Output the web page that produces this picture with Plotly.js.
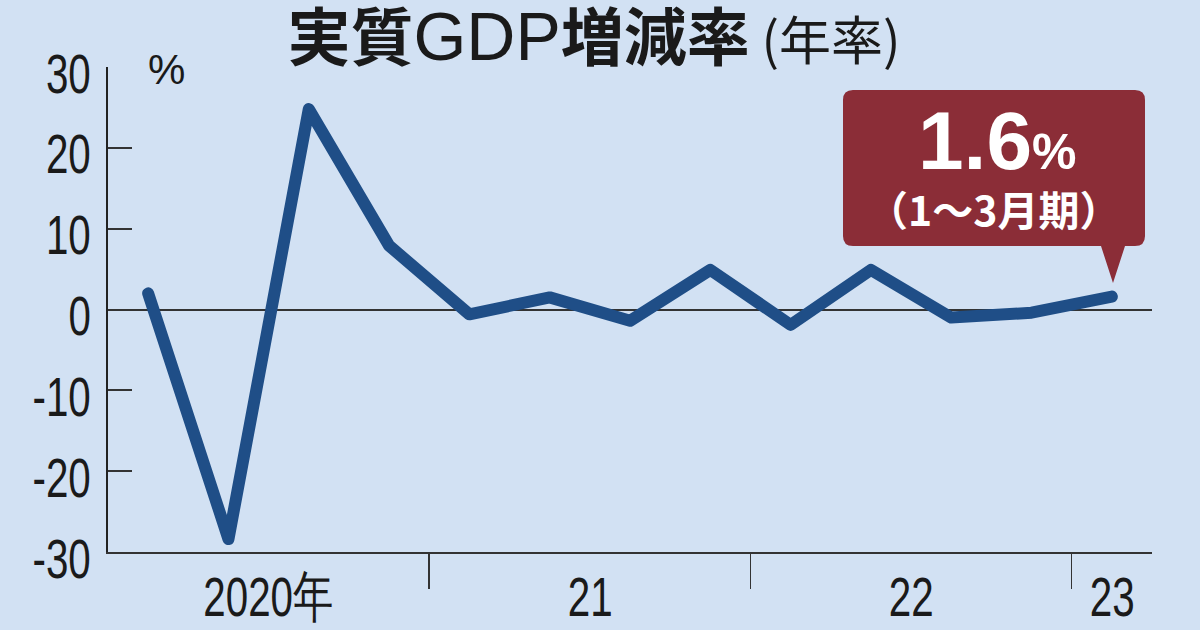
<!DOCTYPE html>
<html>
<head>
<meta charset="utf-8">
<script src="https://cdn.plot.ly/plotly-3.0.1.min.js"></script>
<style>
html,body{margin:0;padding:0;background:#D2E1F3;}
#chart{width:1200px;height:630px;}
.js-line{stroke-linecap:round !important;stroke-linejoin:round !important;}
</style>
</head>
<body>
<div id="chart"></div>
<script>
// Quarters: 2020 Q1 .. 2023 Q1
const quarters = ["2020Q1","2020Q2","2020Q3","2020Q4","2021Q1","2021Q2","2021Q3","2021Q4","2022Q1","2022Q2","2022Q3","2022Q4","2023Q1"];
const growthRate = [2.0, -28.4, 24.8, 7.9, -0.6, 1.5, -1.4, 4.9, -1.9, 4.9, -1.0, -0.4, 1.6];
const yearLabels = ["2020年", "21", "22", "23"];
const yearLabelPos = [1.5, 5.5, 9.5, 12];
const yearBoundaries = [3.5, 7.5, 11.5];
const yTicks = [-30, -20, -10, 0, 10, 20, 30];
const yTickText = ["-30", "-20", "-10", "0", "10", "20", "30"];
const titleParts = ["実質", "GDP", "増減率", "(年率)"];
const calloutValue = "1.6";
const calloutPeriod = "（1〜3月期）";

const xIdx = quarters.map((q, i) => i);

// plot area in pixels
const L = 108, R = 1152, T = 67, B = 552;
const px = x => (x - L) / (R - L);
const py = y => (B - y) / (B - T);

function calloutPath() {
  const l = 843, r = 1145, t = 90, b = 246, rad = 10;
  const tipX = 1113, tipY = 283, bl = 1101, br = 1125;
  const P = (x, y) => px(x).toFixed(5) + "," + py(y).toFixed(5);
  return "M" + P(l + rad, t) +
    " L" + P(r - rad, t) +
    " Q" + P(r, t) + " " + P(r, t + rad) +
    " L" + P(r, b - rad) +
    " Q" + P(r, b) + " " + P(r - rad, b) +
    " L" + P(br, b) +
    " L" + P(tipX, tipY) +
    " L" + P(bl, b) +
    " L" + P(l + rad, b) +
    " Q" + P(l, b) + " " + P(l, b - rad) +
    " L" + P(l, t + rad) +
    " Q" + P(l, t) + " " + P(l + rad, t) + " Z";
}

const sans = "Liberation Sans, Arial, sans-serif";
const cjk = "Noto Sans CJK JP, sans-serif";

const trace = {
  x: xIdx,
  y: growthRate,
  type: "scatter",
  mode: "lines",
  line: {color: "#1F4E87", width: 12},
  hoverinfo: "skip"
};

const annotations = yearLabels.map((t, i) => ({
  x: yearLabelPos[i], xref: "x",
  y: py(596), yref: "paper",
  text: t, showarrow: false,
  xanchor: "center", yanchor: "middle",
  font: {family: sans, size: 56, color: "#1a1a1a"}
}));

annotations.push({
  x: px(166), xref: "paper", y: py(70), yref: "paper",
  text: "%", showarrow: false, xanchor: "center", yanchor: "middle",
  font: {family: sans, size: 42, color: "#1a1a1a"}
});
annotations.push({
  x: px(997), xref: "paper", y: py(140), yref: "paper",
  text: "<b>" + calloutValue + "<span style='font-size:50px'>%</span></b>",
  showarrow: false, xanchor: "center", yanchor: "middle",
  font: {family: sans, size: 82, color: "#ffffff"}
});
annotations.push({
  x: px(993), xref: "paper", y: py(208), yref: "paper",
  text: "<b>" + calloutPeriod + "</b>",
  showarrow: false, xanchor: "center", yanchor: "middle",
  font: {family: cjk, size: 41, color: "#ffffff"}
});

const titleText = "<b>" + titleParts[0] + "</b>" +
  "<span style='font-family:Liberation Sans, Arial;font-size:68px'>" + titleParts[1] + "</span>" +
  "<b>" + titleParts[2] + "</b>" +
  "<span style='font-size:52px'> " + titleParts[3] + "</span>";

const layout = {
  width: 1200, height: 630,
  paper_bgcolor: "#D2E1F3",
  plot_bgcolor: "rgba(0,0,0,0)",
  margin: {l: L, r: 1200 - R, t: T, b: 630 - B, pad: 0},
  showlegend: false,
  title: {
    text: titleText,
    x: 594 / 1200, xref: "container", xanchor: "center",
    y: 1 - 38 / 630, yref: "container", yanchor: "middle",
    font: {family: cjk, size: 63, color: "#1a1a1a", weight: 400}
  },
  xaxis: {
    range: [-0.5, 12.5],
    showgrid: false, zeroline: false,
    showline: true, linecolor: "#333", linewidth: 2,
    ticks: "outside", ticklen: 35, tickwidth: 1.5, tickcolor: "#333",
    tickmode: "array", tickvals: yearBoundaries,
    showticklabels: false,
    fixedrange: true
  },
  yaxis: {
    range: [-30, 30],
    showgrid: false,
    zeroline: true, zerolinecolor: "#333", zerolinewidth: 2,
    showline: true, linecolor: "#222", linewidth: 2,
    ticks: "inside", ticklen: 24, tickwidth: 2, tickcolor: "#333",
    tickmode: "array", tickvals: yTicks, ticktext: yTickText,
    ticklabelstandoff: 4,
    ticklabelshift: 6,
    tickfont: {family: sans, size: 56, color: "#1a1a1a"},
    fixedrange: true
  },
  shapes: [{
    type: "path", xref: "paper", yref: "paper",
    path: calloutPath(),
    fillcolor: "#8B2D37", line: {width: 0}, layer: "above"
  }],
  annotations: annotations
};

// condense the narrow-style axis labels (the reference uses a condensed face)
function squeeze(el, factor) {
  const w = el.getComputedTextLength();
  if (w > 0) {
    el.setAttribute("textLength", (w * factor).toFixed(1));
    el.setAttribute("lengthAdjust", "spacingAndGlyphs");
  }
}

Plotly.newPlot("chart", [trace], layout, {displayModeBar: false, staticPlot: true}).then(gd => {
  gd.querySelectorAll(".ytick text").forEach(t => squeeze(t, 0.72));
  gd.querySelectorAll(".annotation-text").forEach(t => {
    if (yearLabels.indexOf(t.textContent) >= 0) squeeze(t, 0.72);
  });
});
</script>
</body>
</html>
